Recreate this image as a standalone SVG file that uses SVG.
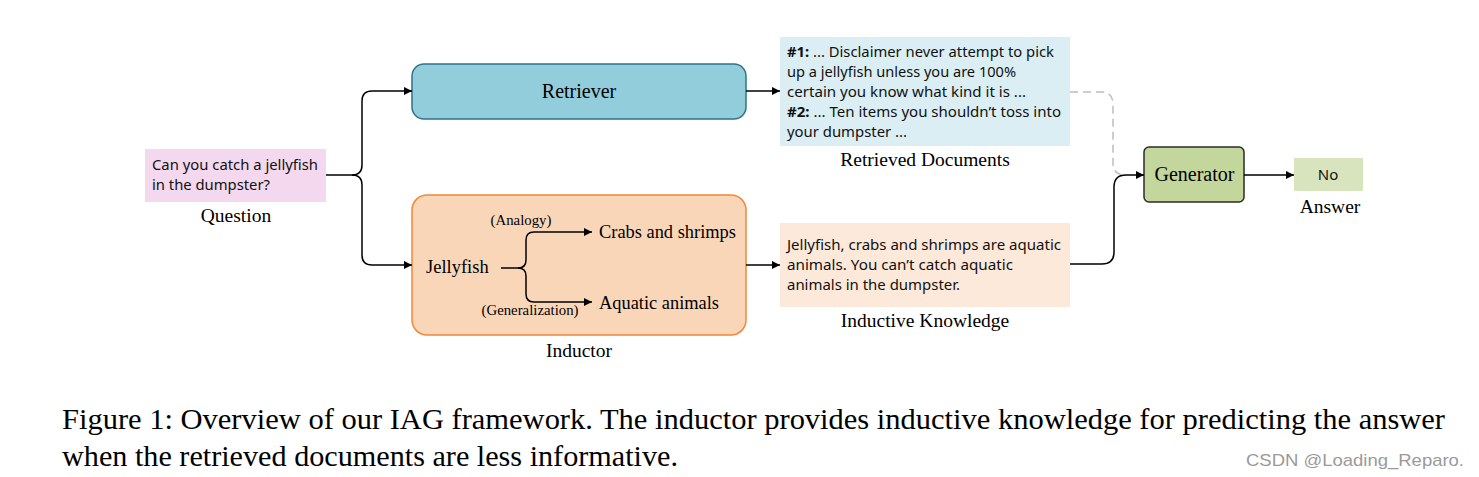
<svg xmlns="http://www.w3.org/2000/svg" width="1479" height="477" viewBox="0 0 1479 477">
<style>
.serif{font-family:"Liberation Serif","Times New Roman",serif;fill:#000}
.sans{font-family:"Noto Sans","Open Sans",sans-serif;fill:#111;font-size:15px}
.lbl{font-size:19.5px}
.conn{fill:none;stroke:#000;stroke-width:1.5}
</style>
<defs>
<marker id="ah" viewBox="0 0 10 10" refX="10" refY="5" markerUnits="userSpaceOnUse" markerWidth="9" markerHeight="8" orient="auto">
<path d="M0,0 L10,5 L0,10 z" fill="#000"/>
</marker>
</defs>
<rect width="1479" height="477" fill="#fff"/>

<g id="question">
<rect x="145" y="149" width="181" height="53" fill="#F3D8EE"/>
<text class="sans" x="152" y="170" textLength="166" lengthAdjust="spacingAndGlyphs">Can you catch a jellyfish</text>
<text class="sans" x="152" y="190" textLength="118" lengthAdjust="spacingAndGlyphs">in the dumpster?</text>
<text class="serif lbl" x="236" y="222" text-anchor="middle">Question</text>
</g>

<g id="retriever">
<rect x="412" y="64" width="334" height="55" rx="12" fill="#92CDDC" stroke="#31728A" stroke-width="1.5"/>
<text class="serif" x="579" y="98" font-size="20" text-anchor="middle">Retriever</text>
</g>

<g id="inductor">
<rect x="412" y="195" width="334" height="140" rx="15" fill="#FAD6B8" stroke="#F0883A" stroke-width="1.5"/>
<text class="serif" x="426" y="273" font-size="18.5">Jellyfish</text>
<text class="serif" x="521" y="225" font-size="14.8" text-anchor="middle">(Analogy)</text>
<text class="serif" x="530" y="315" font-size="14.8" text-anchor="middle">(Generalization)</text>
<text class="serif" x="599" y="238" font-size="18.4">Crabs and shrimps</text>
<text class="serif" x="599" y="309" font-size="18.4">Aquatic animals</text>
<text class="serif lbl" x="579" y="357" text-anchor="middle">Inductor</text>
</g>

<g id="retrieved-documents">
<rect x="780" y="37" width="290" height="109" fill="#DAEEF3"/>
<text class="sans" x="787" y="57" textLength="267" lengthAdjust="spacingAndGlyphs"><tspan font-weight="bold">#1:</tspan> ... Disclaimer never attempt to pick</text>
<text class="sans" x="787" y="77" textLength="229" lengthAdjust="spacingAndGlyphs">up a jellyfish unless you are 100%</text>
<text class="sans" x="787" y="97" textLength="239" lengthAdjust="spacingAndGlyphs">certain you know what kind it is ...</text>
<text class="sans" x="787" y="117" textLength="274" lengthAdjust="spacingAndGlyphs"><tspan font-weight="bold">#2:</tspan> ... Ten items you shouldn’t toss into</text>
<text class="sans" x="787" y="137" textLength="120" lengthAdjust="spacingAndGlyphs">your dumpster ...</text>
<text class="serif lbl" x="925" y="166" text-anchor="middle">Retrieved Documents</text>
</g>

<g id="inductive-knowledge">
<rect x="780" y="223" width="290" height="84" fill="#FDE9D9"/>
<text class="sans" x="787" y="250" textLength="274" lengthAdjust="spacingAndGlyphs">Jellyfish, crabs and shrimps are aquatic</text>
<text class="sans" x="787" y="270" textLength="226" lengthAdjust="spacingAndGlyphs">animals. You can’t catch aquatic</text>
<text class="sans" x="787" y="290" textLength="173" lengthAdjust="spacingAndGlyphs">animals in the dumpster.</text>
<text class="serif lbl" x="925" y="327" text-anchor="middle">Inductive Knowledge</text>
</g>

<g id="generator">
<rect x="1144" y="147" width="100" height="55" rx="5" fill="#C3D69B" stroke="#2B2B2B" stroke-width="1.5"/>
<text class="serif" x="1194.5" y="181" font-size="20" text-anchor="middle">Generator</text>
</g>

<g id="answer">
<rect x="1294" y="158" width="69" height="33" fill="#D7E4BD"/>
<text x="1328" y="180" font-family="Noto Sans, Open Sans, sans-serif" font-size="15" fill="#111" text-anchor="middle">No</text>
<text class="serif lbl" x="1330" y="213" text-anchor="middle">Answer</text>
</g>

<g id="connectors">
<path class="conn" d="M326,175 H352 Q362,175 362,165 V101 Q362,91 372,91 H412" marker-end="url(#ah)"/>
<path class="conn" d="M352,175 Q362,175 362,185 V255 Q362,265 372,265 H412" marker-end="url(#ah)"/>
<path class="conn" d="M746,91 H780" marker-end="url(#ah)"/>
<path class="conn" d="M746,265 H780" marker-end="url(#ah)"/>
<path class="conn" d="M501,268 H518 Q526,268 526,260 V240 Q526,232 534,232 H592" marker-end="url(#ah)"/>
<path class="conn" d="M518,268 Q526,268 526,276 V294 Q526,302 534,302 H592" marker-end="url(#ah)"/>
<path d="M1070,92 H1101 Q1113,92 1113,104 V163 Q1113,175 1125,175" fill="none" stroke="#BDBDBD" stroke-width="1.5" stroke-dasharray="8,5"/>
<path class="conn" d="M1070,264 H1102 Q1114,264 1114,252 V187 Q1114,175 1126,175 H1144" marker-end="url(#ah)"/>
<path class="conn" d="M1244,175 H1294" marker-end="url(#ah)"/>
</g>

<g id="caption">
<text class="serif" x="62" y="429" font-size="29" textLength="1383" lengthAdjust="spacingAndGlyphs">Figure 1: Overview of our IAG framework. The inductor provides inductive knowledge for predicting the answer</text>
<text class="serif" x="62" y="466" font-size="29" textLength="616" lengthAdjust="spacingAndGlyphs">when the retrieved documents are less informative.</text>
<text x="1246" y="466" font-family="Liberation Sans, Arial, sans-serif" font-size="17" fill="#9A9A9A" textLength="218" lengthAdjust="spacingAndGlyphs">CSDN @Loading_Reparo.</text>
</g>
</svg>
